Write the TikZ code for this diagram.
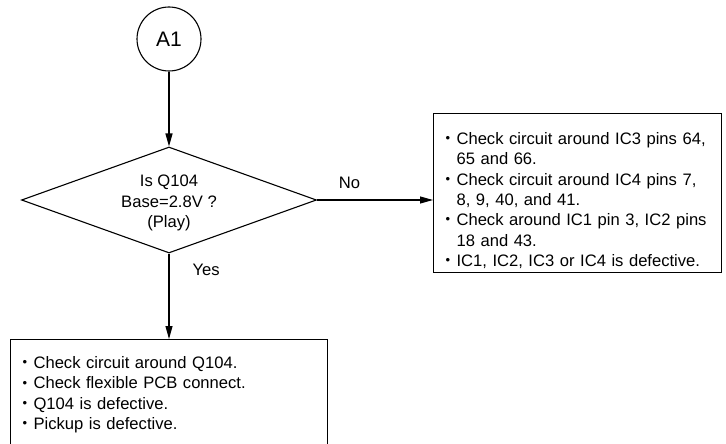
\documentclass[tikz,border=0pt]{standalone}
\usepackage{fontspec}
\setmainfont{Liberation Sans}
\usetikzlibrary{arrows.meta,positioning,shapes.geometric}
\newcommand{\itm}{\makebox[11pt][l]{\raisebox{1.9pt}{\fontsize{13}{13}\selectfont\textbullet}}}
\newcommand{\ind}{\hspace*{11pt}}
\tikzset{box/.style={draw,line width=1.1pt,align=left,inner xsep=12pt,anchor=north west},
  decision/.style={draw,line width=1.1pt,diamond,aspect=2.78,minimum width=295pt,minimum height=106pt,inner sep=0pt,align=center},
  connector/.style={draw,line width=1.1pt,circle,minimum size=64pt,inner sep=0pt,font=\fontsize{21}{21}\selectfont},
  arr/.style={-{Triangle[length=13pt,width=7pt]},line width=1.1pt}}
\begin{document}
\begin{tikzpicture}[x=1pt,y=-1pt,font=\fontsize{16.6}{20.33}\selectfont]
\useasboundingbox (0,0) rectangle (726,444);
\clip (0,0) rectangle (726,444);
\node[connector] (a1) at (169,39) {A1};
\node[decision] (q104) at (169,200) {\rule{0pt}{18pt}Is Q104\\Base=2.8V ?\\(Play)};
\node[box,text width=264pt,inner ysep=3.5pt] (icbox) at (433,113) {\rule{0pt}{27.5pt}\itm Check circuit around IC3 pins 64,\\
  \ind 65 and 66.\\
  \itm Check circuit around IC4 pins 7,\\
  \ind 8, 9, 40, and 41.\\
  \itm Check around IC1 pin 3, IC2 pins\\
  \ind 18 and 43.\\
  \itm IC1, IC2, IC3 or IC4 is defective.};
\node[box,text width=293pt,inner ysep=17pt] (pkbox) at (10,339) {\itm Check circuit around Q104.\\
  \itm Check flexible PCB connect.\\
  \itm Q104 is defective.\\
  \itm Pickup is defective.};
\draw[arr] (a1) -- (q104);
\draw[arr] (q104.east) -- node[above=7pt,pos=0.28]{No} (q104.east -| icbox.west);
\draw[arr] (q104.south) -- node[right=19.7pt,pos=0.186]{Yes} (q104.south |- pkbox.north);
\end{tikzpicture}
\end{document}
